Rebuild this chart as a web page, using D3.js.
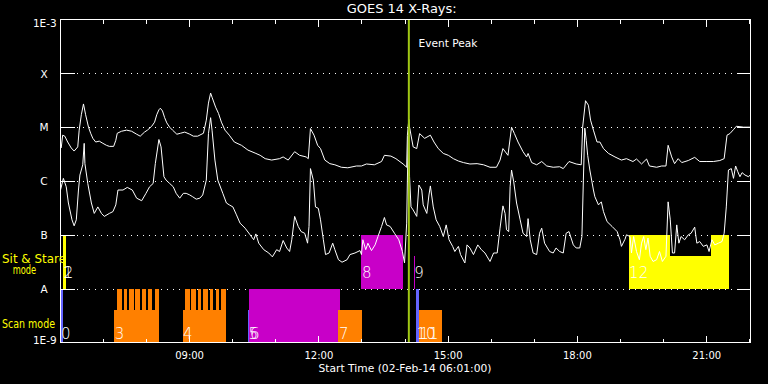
<!DOCTYPE html>
<html><head><meta charset="utf-8">
<script src="https://cdn.jsdelivr.net/npm/d3@7"></script>
<style>
html,body{margin:0;padding:0;background:#000;}
svg{display:block;background:#000;}
text{font-family:"DejaVu Sans",sans-serif;fill:#fff;}
</style></head><body>
<svg id="chart" width="768" height="384"></svg>
<script>
// ---------- text ----------
const chartTitle = "GOES 14 X-Rays:";
const xAxisTitle = "Start Time (02-Feb-14 06:01:00)";
const eventLabel = "Event Peak";
const eventPeakTime = "14:06";
const timeStart = "06:01", timeEnd = "22:01";

// ---------- axes ----------
const yTickValues = [1e-9, 1e-8, 1e-7, 1e-6, 1e-5, 1e-4, 1e-3];
const yTickLabels = ["1E-9", "A", "B", "C", "M", "X", "1E-3"];
const gridLevels = [1e-8, 1e-7, 1e-6, 1e-5, 1e-4];
const xMajorTicks = ["09:00", "12:00", "15:00", "18:00", "21:00"];
const xMinorTicks = ["07:00", "08:00", "10:00", "11:00", "13:00", "14:00", "16:00", "17:00", "19:00", "20:00", "22:00"];

// ---------- GOES long channel (1-8 A) ----------
const longTimes = ["06:02","06:04","06:07","06:11","06:16","06:20","06:25","06:27","06:30","06:33","06:36","06:40","06:43","06:46","06:50","06:55","06:59","07:05","07:09","07:15","07:18","07:20","07:26","07:33","07:40","07:47","07:52","07:58","08:02","08:08","08:12","08:15","08:18","08:20","08:23","08:26","08:29","08:33","08:37","08:43","08:48","08:54","09:01","09:06","09:12","09:20","09:24","09:27","09:30","09:32","09:37","09:41","09:45","09:50","09:56","10:03","10:13","10:22","10:32","10:39","10:46","10:55","11:06","11:11","11:18","11:27","11:34","11:43","11:46","11:49","11:54","11:59","12:03","12:09","12:16","12:23","12:32","12:41","12:53","13:00","13:07","13:18","13:28","13:32","13:41","13:48","13:58","14:03","14:04","14:06","14:07","14:12","14:17","14:21","14:28","14:36","14:41","14:47","14:54","15:01","15:08","15:15","15:22","15:31","15:41","15:50","15:59","16:08","16:13","16:17","16:24","16:29","16:33","16:38","16:45","16:50","16:52","16:57","17:04","17:11","17:18","17:27","17:36","17:41","17:49","17:59","18:06","18:08","18:12","18:16","18:19","18:23","18:28","18:32","18:37","18:44","18:53","19:02","19:09","19:18","19:23","19:30","19:37","19:41","19:51","19:58","20:04","20:07","20:12","20:16","20:21","20:26","20:35","20:44","20:51","21:01","21:10","21:19","21:25","21:29","21:33","21:38","21:42","21:52","22:01"];
const longFlux = [4.1e-6,7.1e-6,6.8e-6,5.3e-6,4.1e-6,3.6e-6,4.3e-6,8.8e-6,1.7e-5,2.7e-5,1.7e-5,1.0e-5,7.7e-6,6.2e-6,5.3e-6,5.5e-6,5.1e-6,4.6e-6,4.4e-6,4.4e-6,5.7e-6,7.7e-6,8.4e-6,8.8e-6,8.4e-6,7.4e-6,6.8e-6,8.1e-6,8.8e-6,1.04e-5,1.24e-5,1.7e-5,2.1e-5,2.25e-5,2.0e-5,1.5e-5,1.2e-5,1.0e-5,8.8e-6,7.4e-6,7.7e-6,8.1e-6,7.4e-6,6.8e-6,6.8e-6,7.7e-6,1.35e-5,2.8e-5,4.3e-5,3.6e-5,2.35e-5,1.8e-5,1.24e-5,8.8e-6,7.1e-6,5.3e-6,4.6e-6,3.75e-6,3.3e-6,3.0e-6,2.6e-6,2.45e-6,2.6e-6,2.8e-6,2.45e-6,3.5e-6,3.0e-6,2.8e-6,2.6e-6,9.4e-6,7.1e-6,4.6e-6,4.0e-6,2.45e-6,2.1e-6,2.0e-6,1.8e-6,1.76e-6,1.9e-6,1.9e-6,2.07e-6,2.0e-6,2.3e-6,3.0e-6,2.9e-6,2.6e-6,2.07e-6,1.8e-6,7.1e-6,1.4e-5,1.0e-5,4.3e-6,4.0e-6,7.6e-6,6.2e-6,7.1e-6,5.3e-6,4.0e-6,3.25e-6,3.0e-6,2.6e-6,2.35e-6,2.2e-6,2.07e-6,2.1e-6,2.0e-6,1.8e-6,1.8e-6,2.45e-6,4.0e-6,3.0e-6,1.0e-5,7.6e-6,5.3e-6,3.5e-6,2.8e-6,3.25e-6,2.2e-6,2.0e-6,2.3e-6,1.9e-6,1.8e-6,1.84e-6,1.7e-6,2.3e-6,2.07e-6,2.0e-6,1.0e-5,3.1e-5,2.56e-5,1.35e-5,8.8e-6,5.3e-6,5.3e-6,4.0e-6,3.25e-6,2.8e-6,2.45e-6,2.6e-6,2.3e-6,2.56e-6,2.07e-6,2.56e-6,1.9e-6,1.8e-6,1.9e-6,1.9e-6,4.6e-6,2.8e-6,2.1e-6,2.6e-6,2.2e-6,2.4e-6,2.75e-6,2.3e-6,2.3e-6,2.3e-6,2.4e-6,2.6e-6,7.1e-6,7.6e-6,9.0e-6,1.04e-5,1.0e-5,1.0e-5];

// ---------- GOES short channel (0.5-4 A) ----------
const shortTimes = ["06:01","06:05","06:09","06:12","06:17","06:20","06:23","06:26","06:28","06:32","06:34","06:35","06:39","06:44","06:48","06:53","06:58","07:02","07:09","07:14","07:18","07:21","07:28","07:34","07:41","07:47","07:54","08:00","08:05","08:10","08:13","08:18","08:21","08:25","08:28","08:33","08:38","08:42","08:47","08:52","08:56","09:01","09:05","09:10","09:15","09:19","09:24","09:27","09:30","09:32","09:36","09:40","09:47","09:52","09:56","10:01","10:06","10:11","10:18","10:25","10:30","10:33","10:37","10:44","10:51","10:56","11:02","11:06","11:11","11:16","11:20","11:23","11:27","11:32","11:36","11:41","11:45","11:47","11:49","11:53","11:56","12:00","12:03","12:07","12:10","12:15","12:20","12:23","12:28","12:33","12:40","12:44","12:51","12:58","13:00","13:02","13:06","13:09","13:14","13:19","13:23","13:28","13:32","13:35","13:40","13:46","13:52","13:57","14:00","14:03","14:05","14:06","14:07","14:09","14:12","14:17","14:20","14:24","14:26","14:31","14:34","14:36","14:40","14:44","14:49","14:54","14:58","15:02","15:07","15:10","15:15","15:18","15:24","15:27","15:31","15:36","15:42","15:47","15:52","15:59","16:04","16:09","16:13","16:17","16:20","16:22","16:25","16:27","16:29","16:32","16:36","16:41","16:45","16:50","16:52","16:55","16:59","17:04","17:08","17:11","17:15","17:22","17:27","17:31","17:36","17:41","17:45","17:49","17:55","17:59","18:04","18:07","18:09","18:11","18:13","18:15","18:18","18:23","18:25","18:30","18:34","18:37","18:42","18:49","18:56","19:00","19:02","19:07","19:09","19:14","19:16","19:19","19:23","19:27","19:30","19:33","19:36","19:39","19:42","19:46","19:51","19:55","19:59","20:04","20:07","20:10","20:13","20:16","20:19","20:22","20:25","20:30","20:35","20:39","20:44","20:47","20:51","20:56","21:01","21:04","21:08","21:12","21:17","21:22","21:25","21:28","21:31","21:35","21:38","21:41","21:44","21:47","21:50","21:54","21:59","22:01"];
const shortFlux = [6.8e-7,1.12e-6,7.8e-7,3.9e-7,1.9e-7,1.47e-7,1.9e-7,6.8e-7,1.29e-6,2.0e-6,5.0e-6,2.1e-6,9.0e-7,3.9e-7,2.5e-7,3.3e-7,2.5e-7,2.2e-7,2.5e-7,2.7e-7,3.6e-7,6.8e-7,6.8e-7,7.6e-7,6.8e-7,4.8e-7,4.3e-7,5.9e-7,7.8e-7,9.0e-7,2.1e-6,5.9e-6,4.3e-6,1.2e-6,1.04e-6,9.0e-7,7.8e-7,5.9e-7,4.8e-7,5.9e-7,5.9e-7,5.5e-7,5.1e-7,4.6e-7,4.8e-7,5.5e-7,1.04e-6,7.6e-6,1.5e-5,8.8e-6,2.45e-6,1.04e-6,5.9e-7,3.9e-7,3.6e-7,3.3e-7,2.35e-7,1.65e-7,1.33e-7,1.0e-7,8.1e-8,1.04e-7,7.0e-8,5.3e-8,4.6e-8,3.9e-8,5.3e-8,4.9e-8,7.85e-8,5.7e-8,4.9e-8,8.1e-8,2.2e-7,1.43e-7,1.15e-7,1.07e-7,7.0e-8,1.43e-7,1.7e-6,1.04e-6,3.3e-7,3.1e-7,1.9e-7,8.1e-8,4.3e-8,4.6e-8,7.0e-8,5.3e-8,3.45e-8,3.1e-8,3.45e-8,4.3e-8,4.6e-8,5.1e-8,4.3e-8,8.1e-8,5.3e-8,7.0e-8,5.1e-8,6.5e-8,9.3e-8,1.43e-7,2.1e-7,1.53e-7,1.43e-7,1.07e-7,8.1e-8,4.9e-8,3.0e-8,1.65e-7,6.6e-6,7.0e-6,1.2e-6,3.3e-7,2.9e-7,2.2e-7,8.4e-7,6.8e-7,3.6e-7,2.5e-7,5.5e-7,8.1e-7,3.3e-7,1.9e-7,1.43e-7,9.3e-8,1.53e-7,8.1e-8,6.1e-8,4.9e-8,6.1e-8,4.3e-8,3.0e-8,6.5e-8,5.7e-8,4.3e-8,6.5e-8,5.3e-8,4.6e-8,3.2e-8,4.6e-8,4.6e-8,1.33e-7,3.45e-7,2.5e-7,1.24e-7,1.15e-7,7.8e-7,1.6e-6,9.7e-7,3.9e-7,1.9e-7,1.07e-7,9.3e-8,2.0e-7,8.1e-8,4.6e-8,4.3e-8,1.07e-7,1.33e-7,7.0e-8,4.9e-8,4.6e-8,5.7e-8,4.9e-8,4.6e-8,1.07e-7,1.15e-7,6.5e-8,5.7e-8,5.7e-8,9.3e-8,1.04e-6,9.6e-6,5.7e-6,3.0e-6,1.6e-6,6.8e-7,5.1e-7,3.6e-7,4.1e-7,2.7e-7,1.76e-7,1.43e-7,1.15e-7,8.1e-8,6.1e-8,8.3e-8,1.0e-7,9.3e-8,4.6e-8,9.3e-8,4.9e-8,3.45e-8,7.0e-8,9.3e-8,5.3e-8,8.7e-8,4.0e-8,3.2e-8,3.45e-8,4.9e-8,3.2e-8,4.0e-8,4.1e-7,1.9e-7,4.6e-8,4.6e-8,1.53e-7,7.0e-8,9.3e-8,8.1e-8,1.0e-7,1.07e-7,1.39e-7,7.0e-8,7.5e-8,6.1e-8,6.5e-8,4.9e-8,8.1e-8,6.5e-8,7.0e-8,7.5e-8,1.07e-7,3.3e-7,1.6e-6,1.7e-6,1.12e-6,1.9e-6,1.49e-6,1.2e-6,1.43e-6,1.29e-6,1.2e-6,1.29e-6];

// ---------- observation timeline ----------
const modeNames = ["Sit & Stare", "mode", "Scan mode"];
const blockLabels = ["0","1","2","3","4","5","6","7","8","9","10","11","12","",""];
const blockMode   = ["scan","sit","sit","scan","scan","scan","scan","scan","sit","sit","scan","scan","sit","sit","sit"];
const blockKind   = ["cal","sns","sns","ras","ras","cal","mos","ras","mos","mos","cal","ras","sns","sns","sns"];
const blockStart  = ["06:01","06:04","06:05","07:16","08:51","10:22","10:24","12:28","13:00","14:13","14:16","14:20","19:12","20:10","21:07"];
const blockEnd    = ["06:05","06:07","06:08","08:18","09:52","10:24","12:30","13:01","13:58","14:14","14:20","14:52","20:10","21:07","21:32"];
const blockLevel  = ["full","full","full","part","part","part","full","part","full","part","full","part","full","part","full"];
const rasterStart = ["07:20","07:29","07:37","07:45","07:55","08:03","08:12","08:55","09:03","09:12","09:20","09:29","09:37","09:45"];
const rasterEnd   = ["07:26","07:34","07:43","07:51","08:00","08:09","08:18","09:01","09:09","09:17","09:26","09:34","09:42","09:52"];

// ================= drawing =================
const svg = d3.select("#chart");
const parseT = s => d3.timeParse("%Y-%m-%d %H:%M")("2014-02-02 " + s);
const L = 60.5, R = 750, T = 19.5, B = 342.5;
const x = d3.scaleTime().domain([parseT(timeStart), parseT(timeEnd)]).range([L, R]);
const y = d3.scaleLog().domain([1e-9, 1e-3]).range([B, T]);
const kindColor = d3.scaleOrdinal().domain(["cal","sns","ras","mos"]).range(["#6464ff","#ffff00","#ff8000","#c800c8"]);
const bandLow = {scan: 1e-9, sit: 1e-8}, bandHigh = {scan: 1e-8, sit: 1e-7};
const levelFrac = {full: 1, part: 0.61};
const topY = (mode, lev) => y(bandLow[mode]) + levelFrac[lev] * (y(bandHigh[mode]) - y(bandLow[mode]));

svg.append("defs").append("clipPath").attr("id","plotclip")
  .append("rect").attr("x",L).attr("y",T).attr("width",R-L).attr("height",B-T);

// dotted grid lines
svg.append("g").selectAll("line").data(gridLevels).join("line")
  .attr("x1", L + 16.5).attr("x2", R - 13).attr("y1", d => Math.round(y(d)) + 0.5).attr("y2", d => Math.round(y(d)) + 0.5)
  .attr("stroke", "#fff").attr("stroke-dasharray", "1 5");

// timeline blocks
const blocks = blockLabels.map((lab, i) => ({lab, mode: blockMode[i], kind: blockKind[i], s: parseT(blockStart[i]), e: parseT(blockEnd[i]), lev: blockLevel[i]}));
const gb = svg.append("g").attr("shape-rendering","crispEdges");
gb.selectAll("rect.blk").data(blocks).join("rect").attr("class","blk")
  .attr("x", d => x(d.s)).attr("width", d => Math.max(1, x(d.e) - x(d.s)))
  .attr("y", d => topY(d.mode, d.lev)).attr("height", d => y(bandLow[d.mode]) - topY(d.mode, d.lev))
  .attr("fill", d => kindColor(d.kind));
const rasters = rasterStart.map((s, i) => ({s: parseT(s), e: parseT(rasterEnd[i])}));
gb.selectAll("rect.ras").data(rasters).join("rect").attr("class","ras")
  .attr("x", d => x(d.s)).attr("width", d => x(d.e) - x(d.s))
  .attr("y", topY("scan","full")).attr("height", y(1e-9) - topY("scan","full"))
  .attr("fill", kindColor("ras"));

// block labels
svg.append("g").selectAll("text").data(blocks.filter(d => d.lab !== "")).join("text")
  .attr("x", d => x(d.s) + 0.5)
  .attr("y", d => d.mode === "scan" ? y(1e-9) - 4 : y(1e-8) - 10.5)
  .attr("font-size", 15).attr("font-weight", 200).text(d => d.lab);

// light curves
const line = d3.line().x(d => x(d.t)).y(d => y(d.v));
const longData = longTimes.map((t, i) => ({t: parseT(t), v: longFlux[i]}));
const shortData = shortTimes.map((t, i) => ({t: parseT(t), v: shortFlux[i]}));
const gc = svg.append("g").attr("clip-path","url(#plotclip)");
gc.append("path").datum(longData).attr("d", line).attr("fill","none").attr("stroke","#fff").attr("stroke-width",1);
gc.append("path").datum(shortData).attr("d", line).attr("fill","none").attr("stroke","#fff").attr("stroke-width",1);

// event peak line
const xe = x(parseT(eventPeakTime));
svg.append("line").attr("x1", xe).attr("x2", xe).attr("y1", T).attr("y2", B)
  .attr("stroke", "#a0c814").attr("stroke-width", 2);
svg.append("text").attr("x", xe + 9.7).attr("y", 46.7).attr("font-size", 11)
  .attr("textLength", 59).attr("lengthAdjust","spacingAndGlyphs").text(eventLabel);

// frame
svg.append("rect").attr("x", L).attr("y", T).attr("width", R - L).attr("height", B - T)
  .attr("fill","none").attr("stroke","#fff").attr("shape-rendering","crispEdges");

// y ticks (left and right)
const gy = svg.append("g").attr("stroke","#fff").attr("shape-rendering","crispEdges");
gy.selectAll("line.l").data(gridLevels).join("line").attr("class","l")
  .attr("x1", L).attr("x2", L + 14.5).attr("y1", d => Math.round(y(d)) + 0.5).attr("y2", d => Math.round(y(d)) + 0.5);
gy.selectAll("line.r").data(gridLevels).join("line").attr("class","r")
  .attr("x1", R - 13.5).attr("x2", R).attr("y1", d => Math.round(y(d)) + 0.5).attr("y2", d => Math.round(y(d)) + 0.5);

// y labels
svg.append("g").selectAll("text").data(yTickValues).join("text")
  .attr("x", (d, i) => yTickLabels[i].startsWith("1E") ? 56.7 : 44)
  .attr("y", (d, i) => y(d) + (i === 0 ? 1.5 : i === yTickValues.length - 1 ? 7.3 : 4.3))
  .attr("text-anchor", (d, i) => yTickLabels[i].startsWith("1E") ? "end" : "middle")
  .attr("font-size", 10.5).text((d, i) => yTickLabels[i]);

// x ticks
const major = xMajorTicks.map(parseT), minor = xMinorTicks.map(parseT);
const fmt = d3.timeFormat("%H:%M");
function ticks(gen, vals, size, labels) {
  const g = svg.append("g").call(gen(x).tickValues(vals).tickSize(-size).tickPadding(9).tickFormat(labels ? fmt : () => ""));
  g.attr("transform", gen === d3.axisBottom ? `translate(0,${B})` : `translate(0,${T})`);
  g.select(".domain").remove();
  g.selectAll("line").attr("stroke","#fff").attr("shape-rendering","crispEdges");
  g.selectAll("text").attr("fill","#fff").attr("font-size",10).attr("font-family","DejaVu Sans, sans-serif");
  return g;
}
ticks(d3.axisBottom, major, 7, true);
ticks(d3.axisBottom, minor, 4, false);
ticks(d3.axisTop, major, 7, false);
ticks(d3.axisTop, minor, 4, false);

// titles
svg.append("text").attr("x", 401.7).attr("y", 13.3).attr("text-anchor","middle").attr("font-size", 11.5)
  .attr("textLength", 110).attr("lengthAdjust","spacingAndGlyphs").text(chartTitle);
svg.append("text").attr("x", 405).attr("y", 371.7).attr("text-anchor","middle").attr("font-size", 10.5)
  .attr("textLength", 173).attr("lengthAdjust","spacingAndGlyphs").text(xAxisTitle);

// mode labels
const gm = svg.append("g").attr("font-size", 12.5);
gm.append("text").attr("x", 2).attr("y", 263).attr("textLength", 64).attr("lengthAdjust","spacingAndGlyphs").style("fill","#ffff00").text(modeNames[0]);
gm.append("text").attr("x", 12.7).attr("y", 274.3).attr("textLength", 23.5).attr("lengthAdjust","spacingAndGlyphs").style("fill","#ffff00").text(modeNames[1]);
gm.append("text").attr("x", 2).attr("y", 327.7).attr("textLength", 53).attr("lengthAdjust","spacingAndGlyphs").style("fill","#ffff00").text(modeNames[2]);
</script>
</body></html>
